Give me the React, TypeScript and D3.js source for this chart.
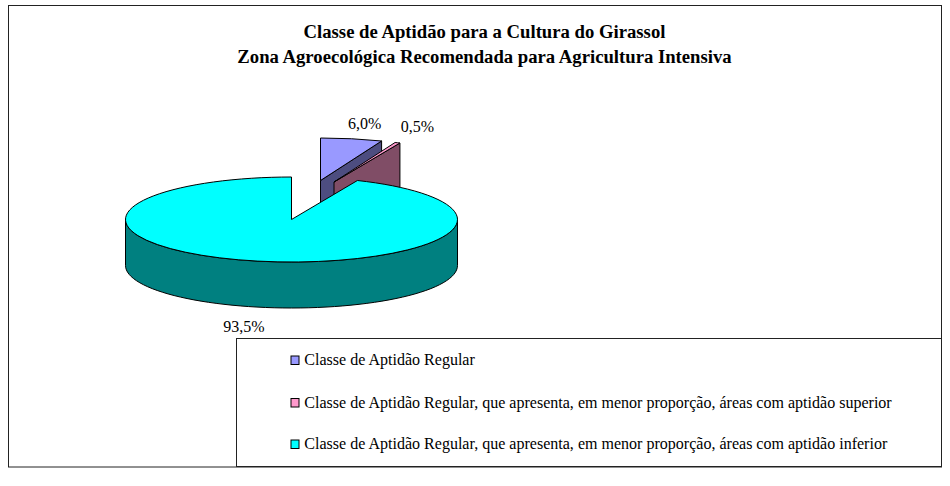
import React from "react";
import * as d3 from "d3";

const titleLines = [
  "Classe de Aptidão para a Cultura do Girassol",
  "Zona Agroecológica Recomendada para Agricultura Intensiva",
];
const categories = [
  "Classe de Aptidão Regular",
  "Classe de Aptidão Regular, que apresenta, em menor proporção, áreas com aptidão superior",
  "Classe de Aptidão Regular, que apresenta, em menor proporção, áreas com aptidão inferior",
];
const values = [6.0, 0.5, 93.5];
const valueLabels = ["6,0%", "0,5%", "93,5%"];
const topColors = ["#9999ff", "#ff99cc", "#00ffff"];
const sideColors = ["#4d4d80", "#804d66", "#008080"];

// pie geometry, squashed to fake the 3D tilt
const rx = 166;
const ry = 42.5;
const depth = 46;
const center = { x: 291.5, y: 219.5 };
// how far each slice is pulled out of the pie
const offsets = [
  { x: 29, y: -39 },
  { x: 42.5, y: -37.5 },
  { x: 0, y: 0 },
];
const labelPos = [
  { x: 364.7, y: 129 },
  { x: 417.5, y: 132 },
  { x: 244, y: 332 },
];
const legendBaselines = [365, 407.5, 449];

const pie = d3.pie<number>().sort(null).value((d) => d);
const slices = pie(values);

const arc = d3.arc<d3.PieArcDatum<number>>().innerRadius(0).outerRadius(rx);
const pt = (a: number) => [rx * Math.sin(a), -ry * Math.cos(a)] as [number, number];
const line = d3.line();

// outer rim wall between two angles
function rimWall(a0: number, a1: number) {
  const angles = d3.range(0, 61).map((i) => a0 + ((a1 - a0) * i) / 60);
  const top = angles.map(pt);
  const bottom = top.map(([x, y]) => [x, y + depth] as [number, number]).reverse();
  return line([...top, ...bottom]) + "Z";
}

// flat wall along a cut edge of a slice
function cutWall(a: number) {
  const [x, y] = pt(a);
  return line([[0, 0], [x, y], [x, y + depth], [0, depth]]) + "Z";
}

export default function App() {
  const stroke = { stroke: "#000", strokeWidth: 1, strokeLinejoin: "round" as const };
  // back slices first, cyan last since it sits in front
  return (
    <svg
      width={950}
      height={486}
      style={{ position: "absolute", left: 0, top: 0, fontFamily: "'Liberation Serif', serif" }}
    >
      <rect x={0} y={0} width={950} height={486} fill="#fff" />
      <rect x={8.5} y={5.5} width={933} height={461.5} fill="#fff" stroke="#222" strokeWidth={1} />

      {titleLines.map((t, i) => (
        <text key={t} x={484.5} y={37.5 + i * 25.5} textAnchor="middle" fontSize={18.7} fontWeight="bold" fill="#000">
          {t}
        </text>
      ))}

      {slices.map((s, i) => {
        const o = offsets[i];
        const cx = center.x + o.x;
        const cy = center.y + o.y;
        const isBig = i === 2;
        return (
          <g key={i} transform={`translate(${cx},${cy})`}>
            {isBig ? (
              <path d={rimWall(Math.PI / 2, (Math.PI * 3) / 2)} fill={sideColors[i]} {...stroke} />
            ) : (
              <path d={cutWall(s.endAngle)} fill={sideColors[i]} {...stroke} />
            )}
            <g transform={`scale(1,${ry / rx})`}>
              <path d={arc(s) as string} fill={topColors[i]} {...stroke} vectorEffect="non-scaling-stroke" />
            </g>
          </g>
        );
      })}

      {valueLabels.map((t, i) => (
        <text key={t} x={labelPos[i].x} y={labelPos[i].y} textAnchor="middle" fontSize={16} fill="#000">
          {t}
        </text>
      ))}

      <rect x={236.5} y={338.5} width={705} height={128} fill="#fff" stroke="#222" strokeWidth={1} />
      {categories.map((c, i) => (
        <g key={c}>
          <rect x={291} y={legendBaselines[i] - 9} width={8} height={8.5} fill={topColors[i]} stroke="#000" strokeWidth={1} />
          <text x={304.3} y={legendBaselines[i]} fontSize={16.05} fill="#000">
            {c}
          </text>
        </g>
      ))}
    </svg>
  );
}
